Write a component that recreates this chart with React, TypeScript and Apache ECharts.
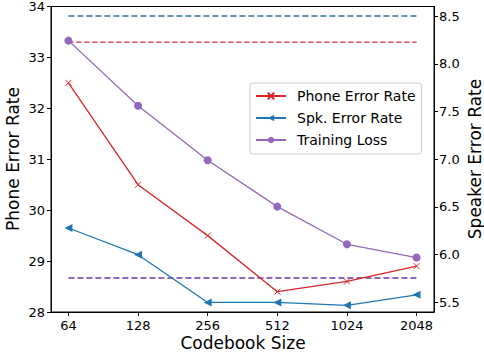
import React, { useEffect, useRef } from "react";
import * as echarts from "echarts";

const categories = ["64", "128", "256", "512", "1024", "2048"];
const phoneErrorRate = [32.5, 30.5, 29.5, 28.4, 28.6, 28.9];
const speakerErrorRate = [6.28, 6.0, 5.5, 5.5, 5.47, 5.58];
const trainingLoss = [33.33, 32.05, 30.98, 30.07, 29.33, 29.07];
const phoneBaseline = 33.3;
const speakerBaseline = 8.5;
const lossBaseline = 28.67;
const leftTicks = [28, 29, 30, 31, 32, 33, 34];
const rightTicks = [5.5, 6.0, 6.5, 7.0, 7.5, 8.0, 8.5];

const RED = "#d62728";
const BLUE = "#1f77b4";
const PURPLE = "#9467bd";
const FONT = "DejaVu Sans";

const pts = (vals: number[]) => vals.map((v, i) => [i, v]);
const flat = (v: number) => [[0, v], [categories.length - 1, v]];

export default function App() {
  const ref = useRef<HTMLDivElement>(null);
  useEffect(() => {
    if (!ref.current) return;
    const chart = echarts.init(ref.current, null, { renderer: "svg" });
    const axisText = { color: "#000", fontFamily: FONT, fontSize: 13 };
    const titleStyle = (text: string) => ({
      text,
      fill: "#000",
      font: `17px "${FONT}"`,
      lineHeight: 17,
      textAlign: "center",
      textVerticalAlign: "middle",
    });
    chart.setOption({
      animation: false,
      backgroundColor: "#fff",
      textStyle: { fontFamily: FONT },
      grid: {
        left: 51,
        right: 50,
        top: 5,
        bottom: 40,
        show: true,
        borderColor: "#000",
        borderWidth: 1,
        backgroundColor: "transparent",
      },
      graphic: [
        { type: "text", x: 13, y: 159, rotation: Math.PI / 2, style: titleStyle("Phone Error Rate") },
        { type: "text", x: 475, y: 159, rotation: Math.PI / 2, style: titleStyle("Speaker Error Rate") },
        { type: "text", x: 243, y: 343, style: titleStyle("Codebook Size") },
      ],
      legend: {
        orient: "vertical",
        left: 250,
        top: 83,
        data: ["Phone Error Rate", "Spk. Error Rate", "Training Loss"],
        itemWidth: 30,
        itemHeight: 8,
        itemGap: 8,
        padding: [6, 6, 7, 5],
        borderColor: "#cccccc",
        borderWidth: 1,
        borderRadius: 3,
        backgroundColor: "rgba(255,255,255,0.8)",
        textStyle: { fontFamily: FONT, fontSize: 14, color: "#000", padding: [0, 0, 0, 6] },
      },
      xAxis: {
        type: "value",
        min: -0.25,
        max: categories.length - 1 + 0.25,
        axisLine: { show: true, onZero: false, lineStyle: { color: "#000", width: 1 } },
        axisTick: {
          show: true,
          length: 4,
          lineStyle: { color: "#000" },
          customValues: categories.map((_, i) => i),
        },
        axisLabel: {
          ...axisText,
          lineHeight: 13,
          margin: 7,
          customValues: categories.map((_, i) => i),
          formatter: (v: number) => categories[Math.round(v)] ?? "",
        },
        splitLine: { show: false },
      },
      yAxis: [
        {
          type: "value",
          position: "left",
          min: 28,
          max: 34,
          interval: 1,
          axisLine: { show: true, onZero: false, lineStyle: { color: "#000" } },
          axisTick: { show: true, length: 4, lineStyle: { color: "#000" }, customValues: leftTicks },
          axisLabel: { ...axisText, margin: 6, customValues: leftTicks },
          splitLine: { show: false },
        },
        {
          type: "value",
          position: "right",
          min: 5.4,
          max: 8.6,
          axisLine: { show: true, onZero: false, lineStyle: { color: "#000" } },
          axisTick: { show: true, length: 4, lineStyle: { color: "#000" }, customValues: rightTicks },
          axisLabel: {
            ...axisText,
            margin: 5,
            customValues: rightTicks,
            formatter: (v: number) => v.toFixed(1),
          },
          splitLine: { show: false },
        },
      ],
      series: [
        {
          name: "Phone Baseline",
          type: "line",
          yAxisIndex: 0,
          data: flat(phoneBaseline),
          symbol: "none",
          color: RED,
          lineStyle: { color: RED, width: 1.2, type: [5, 3] },
          z: 1,
        },
        {
          name: "Speaker Baseline",
          type: "line",
          yAxisIndex: 1,
          data: flat(speakerBaseline),
          symbol: "none",
          color: "#2c6e9b",
          lineStyle: { color: "#2c6e9b", width: 1.6, type: [6, 3] },
          z: 1,
        },
        {
          name: "Loss Baseline",
          type: "line",
          yAxisIndex: 0,
          data: flat(lossBaseline),
          symbol: "none",
          color: PURPLE,
          lineStyle: { color: PURPLE, width: 2, type: [6, 3] },
          z: 1,
        },
        {
          name: "Phone Error Rate",
          type: "line",
          yAxisIndex: 0,
          data: pts(phoneErrorRate),
          symbol: "path://M0,0L10,10M10,0L0,10",
          symbolSize: 6,
          color: RED,
          itemStyle: { color: RED, borderColor: RED, borderWidth: 1 },
          lineStyle: { color: RED, width: 1.3 },
          z: 3,
        },
        {
          name: "Spk. Error Rate",
          type: "line",
          yAxisIndex: 1,
          data: pts(speakerErrorRate),
          symbol: "triangle",
          symbolRotate: 90,
          symbolSize: 8,
          color: BLUE,
          itemStyle: { color: BLUE },
          lineStyle: { color: BLUE, width: 1.3 },
          z: 3,
        },
        {
          name: "Training Loss",
          type: "line",
          yAxisIndex: 0,
          data: pts(trainingLoss),
          symbol: "circle",
          symbolSize: 8,
          color: PURPLE,
          itemStyle: { color: PURPLE },
          lineStyle: { color: PURPLE, width: 1.3 },
          z: 3,
        },
      ],
    });
    return () => chart.dispose();
  }, []);
  return <div ref={ref} style={{ width: 484, height: 352, position: "absolute", left: 0, top: 0 }} />;
}
